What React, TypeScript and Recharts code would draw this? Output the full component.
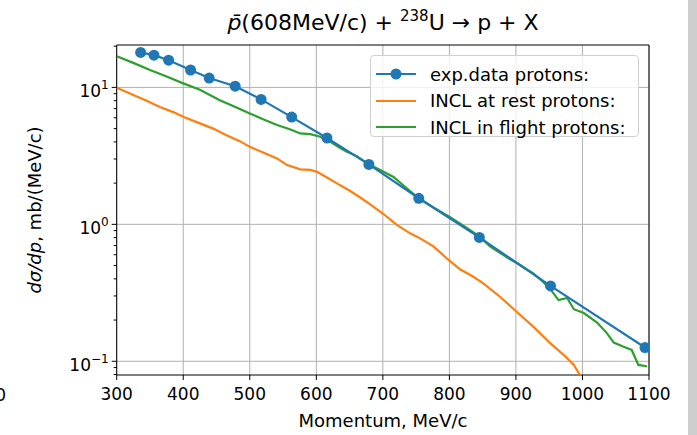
import React from 'react';
import {
  CartesianGrid,
  Legend,
  Line,
  LineChart,
  ReferenceArea,
  XAxis,
  YAxis,
} from 'recharts';

// exp. data points
const expMomentum = [336, 356, 378, 411, 439, 478, 517, 563, 616, 679, 754, 845, 952, 1094];
const expValue = [18.0, 17.2, 15.8, 13.4, 11.7, 10.2, 8.17, 6.07, 4.27, 2.74, 1.55, 0.803, 0.355, 0.126];

// INCL at rest
const restMomentum = [
  300, 325, 345, 365, 385, 400, 425, 445, 465, 485, 500, 520, 541, 556, 576, 591, 601, 616, 631, 651,
  666, 681, 701, 721, 741, 756, 776, 796, 816, 836, 851, 876, 901, 926, 952, 972, 987, 1000,
];
const restValue = [
  9.93, 8.8, 8.0, 7.2, 6.6, 6.1, 5.46, 5.0, 4.48, 4.05, 3.68, 3.35, 3.03, 2.71, 2.52, 2.5, 2.42, 2.2, 1.99, 1.75,
  1.57, 1.4, 1.19, 0.99, 0.86, 0.79, 0.69, 0.565, 0.47, 0.414, 0.371, 0.296, 0.23, 0.179, 0.135, 0.111, 0.094, 0.074,
];

// INCL in flight
const flightMomentum = [
  300, 325, 350, 375, 400, 425, 455, 475, 500, 520, 541, 560, 576, 591, 606, 621, 636, 646, 661, 676,
  696, 716, 735, 754, 776, 801, 825, 846, 861, 876, 890, 902, 916, 926, 941, 952, 964, 977, 987, 1002,
  1022, 1037, 1047, 1061, 1074, 1084, 1097,
];
const flightValue = [
  16.9, 15.1, 13.4, 12.0, 10.7, 9.6, 8.07, 7.3, 6.46, 5.85, 5.31, 4.95, 4.61, 4.56, 4.36, 4.01, 3.6, 3.39, 3.15, 2.8,
  2.49, 2.22, 1.85, 1.55, 1.33, 1.13, 0.95, 0.81, 0.69, 0.62, 0.56, 0.52, 0.47, 0.438, 0.38, 0.335, 0.28, 0.29, 0.24, 0.225,
  0.192, 0.16, 0.137, 0.128, 0.121, 0.094, 0.092,
];

const xTicks = [300, 400, 500, 600, 700, 800, 900, 1000, 1100];
const yMajor = [0.1, 1, 10];
const yMinor = [0.08, 0.09, 0.2, 0.3, 0.4, 0.5, 0.6, 0.7, 0.8, 0.9, 2, 3, 4, 5, 6, 7, 8, 9, 20];

const legendNames = ['exp.data protons:', 'INCL at rest protons:', 'INCL in flight protons:'];

const BLUE = '#1f77b4';
const ORANGE = '#ff7f0e';
const GREEN = '#2ca02c';
const FONT = '"DejaVu Sans", sans-serif';

const toRows = (xs: number[], ys: number[]) => xs.map((m, i) => ({ m, v: ys[i] }));
const expData = toRows(expMomentum, expValue);
const restData = toRows(restMomentum, restValue);
const flightData = toRows(flightMomentum, flightValue);

const Y_MIN = 0.0794;
const Y_MAX = 20.4;

const YTick = (props: any) => {
  const { x, y, payload } = props;
  const v = payload.value;
  const major = yMajor.includes(v);
  const p = Math.round(Math.log10(v));
  return (
    <g>
      <line x1={x - (major ? 5 : 3)} x2={x} y1={y} y2={y} stroke="#000" strokeWidth={1} />
      {major && (
        <text x={x - 8} y={y + 9.5} textAnchor="end" fontFamily={FONT} fontSize={17} fill="#000">
          10
          <tspan dy={-8} fontSize={12}>
            {p < 0 ? '\u2212' + -p : p}
          </tspan>
        </text>
      )}
    </g>
  );
};

const LegendBox = () => {
  const colors = [BLUE, ORANGE, GREEN];
  return (
    <div
      style={{
        width: 267,
        height: 80,
        border: '1px solid #d0d0d0',
        borderRadius: 4,
        background: 'rgba(255,255,255,0.8)',
        position: 'relative',
        fontFamily: FONT,
        fontSize: 18,
        color: '#000',
      }}
    >
      {legendNames.map((name, i) => (
        <div
          key={name}
          style={{ position: 'absolute', left: 4, top: 6 + i * 26.5, height: 24, display: 'flex', alignItems: 'center' }}
        >
          <svg width={42} height={24}>
            <line x1={1} x2={41} y1={12} y2={12} stroke={colors[i]} strokeWidth={2.2} />
            {i === 0 && <circle cx={21} cy={12} r={5.5} fill={BLUE} />}
          </svg>
          <span style={{ marginLeft: 13, whiteSpace: 'nowrap' }}>{name}</span>
        </div>
      ))}
    </div>
  );
};

export default function App() {
  return (
    <div style={{ position: 'absolute', left: 0, top: 0, width: 697, height: 435, background: '#fff' }}>
      <LineChart
        width={697}
        height={435}
        margin={{ top: 45, right: 48, bottom: 20, left: 16.7 }}
      >
        <CartesianGrid stroke="#b0b0b0" strokeWidth={1} horizontalValues={yMajor} verticalValues={xTicks} />
        <XAxis
          dataKey="m"
          type="number"
          domain={[300, 1100]}
          ticks={xTicks}
          allowDataOverflow
          height={40}
          axisLine={false}
          tickSize={5}
          tickMargin={8}
          tickLine={{ stroke: '#000', strokeWidth: 1 }}
          tick={{ fill: '#000', fontSize: 17, fontFamily: FONT }}
          label={{
            content: () => (
              <text x={383} y={427} textAnchor="middle" fontFamily={FONT} fontSize={18} fill="#000">
                Momentum, MeV/c
              </text>
            ),
          }}
        />
        <YAxis
          type="number"
          scale="log"
          domain={[Y_MIN, Y_MAX]}
          allowDataOverflow
          ticks={[...yMajor, ...yMinor]}
          interval={0}
          width={100}
          axisLine={false}
          tickLine={false}
          tickSize={0}
          tickMargin={0}
          tick={<YTick />}
          label={{
            content: () => (
              <text
                x={41}
                y={210}
                transform="rotate(-90 41 210)"
                textAnchor="middle"
                fontFamily={FONT}
                fontSize={18}
                fill="#000"
              >
                <tspan fontStyle="italic">dσ/dp</tspan>, mb/(MeV/c)
              </text>
            ),
          }}
        />
        <Line
          data={restData}
          dataKey="v"
          type="linear"
          stroke={ORANGE}
          strokeWidth={2.2}
          dot={false}
          isAnimationActive={false}
        />
        <Line
          data={flightData}
          dataKey="v"
          type="linear"
          stroke={GREEN}
          strokeWidth={2.2}
          dot={false}
          isAnimationActive={false}
        />
        <Line
          data={expData}
          dataKey="v"
          type="linear"
          stroke={BLUE}
          strokeWidth={2.2}
          dot={{ r: 5.5, fill: BLUE, stroke: BLUE, strokeWidth: 0 }}
          isAnimationActive={false}
        />
        <ReferenceArea
          x1={300}
          x2={1100}
          y1={Y_MIN}
          y2={Y_MAX}
          fill="none"
          fillOpacity={0}
          stroke="#000"
          strokeWidth={1}
          ifOverflow="visible"
        />
        <Legend
          layout="vertical"
          align="center"
          verticalAlign="middle"
          content={() => <LegendBox />}
          wrapperStyle={{ position: 'absolute', left: 370, top: 55, width: 269, height: 82 }}
        />
      </LineChart>
      <svg
        width={697}
        height={435}
        style={{ position: 'absolute', left: 0, top: 0, pointerEvents: 'none' }}
      >
        <text x={383} y={30} textAnchor="middle" fontFamily={FONT} fontSize={22} fill="#000">
          <tspan fontStyle="italic">p̄</tspan>(608MeV/c) + <tspan dy={-9} fontSize={15}>238</tspan>
          <tspan dy={9}>U → p + X</tspan>
        </text>
        <text x={6} y={401} textAnchor="end" fontFamily={FONT} fontSize={17} fill="#000">
          0
        </text>
        <rect x={688} y={0} width={9} height={435} fill="#cdcdcd" />
      </svg>
    </div>
  );
}
